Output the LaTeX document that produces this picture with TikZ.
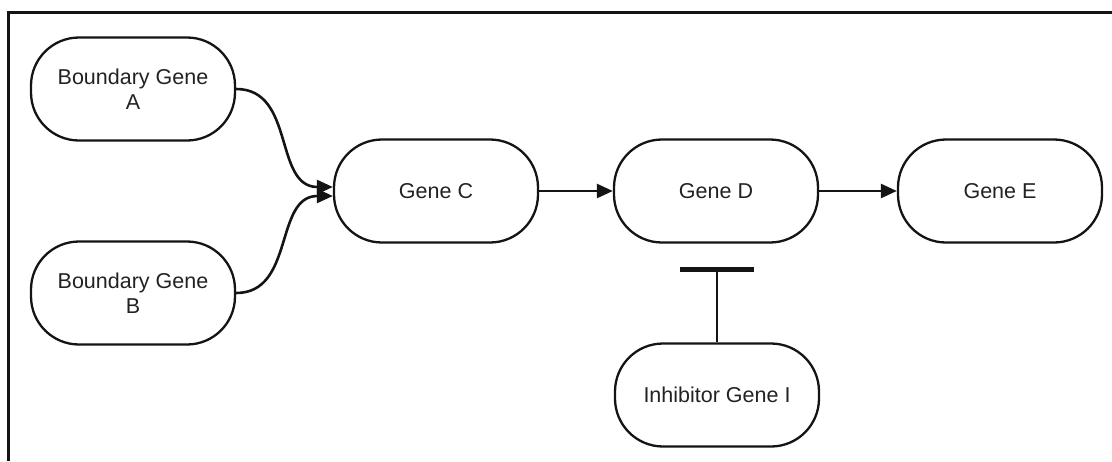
\documentclass[tikz,border=0pt]{standalone}
\usepackage{fontspec}
\setmainfont{Liberation Sans}
\usetikzlibrary{arrows.meta}
\definecolor{ink}{HTML}{141414}
\definecolor{txt}{HTML}{222222}
\tikzset{
  gene/.style={draw=ink, line width=2.3pt, rounded corners=48pt,
    minimum width=204pt, minimum height=103pt, inner sep=0pt,
    align=center, text=txt, font=\fontsize{21.5}{25}\selectfont},
  link/.style={draw=ink, line width=2.6pt,
    -{Triangle[length=16pt,width=14pt]}},
  inhib/.style={draw=ink, line width=2.6pt,
    -{Bar[width=74pt,line width=4.5pt]}}
}
\begin{document}
\begin{tikzpicture}[x=1pt,y=-1pt]
  \useasboundingbox (0,0) rectangle (1112,461);
  % frame
  \draw[ink, line width=3pt] (8,461) -- (8,12) -- (1112,12);

  \node[gene] (A) at (133,89)  {Boundary Gene\\A};
  \node[gene] (B) at (133,293) {Boundary Gene\\B};
  \node[gene] (C) at (436,191) {Gene C};
  \node[gene] (D) at (716,191) {Gene D};
  \node[gene] (E) at (1000,191) {Gene E};
  \node[gene] (I) at (717,395) {Inhibitor Gene I};
  \coordinate (block) at (717,267);

  \draw[link] (A.east) to[out=0, in=180, looseness=1.1] ([yshift=4pt]C.west);
  \draw[link] (B.east) to[out=0, in=180, looseness=1.1] ([yshift=-5pt]C.west);
  \draw[link] (C.east) -- (D.west);
  \draw[link] (D.east) -- (E.west);
  \draw[inhib] (I.north) -- (block);
\end{tikzpicture}
\end{document}
